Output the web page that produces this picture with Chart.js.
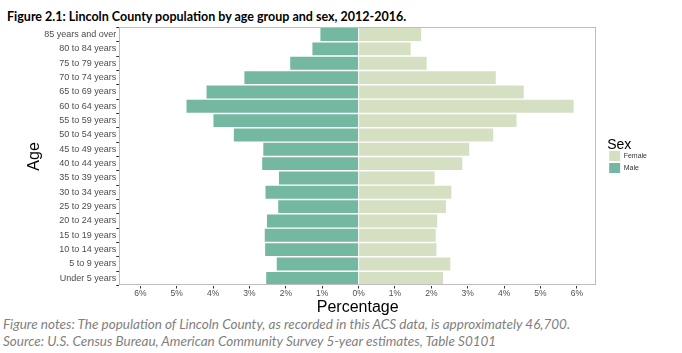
<!DOCTYPE html>
<html>
<head>
<meta charset="utf-8">
<script src="https://cdn.jsdelivr.net/npm/chart.js"></script>
<style>
  body { margin: 0; background: #fff; width: 682px; height: 353px; position: relative; overflow: hidden; }
  #title { position: absolute; left: 7px; top: 9px; font: bold 12.5px Lato, sans-serif; color: #000; white-space: nowrap; }
  #wrap { position: absolute; left: 0; top: 22px; width: 682px; height: 294px; }
  .note { position: absolute; left: 3px; font: italic 13.5px Lato, sans-serif; line-height: 16px; color: #7f7f7f; white-space: nowrap; }
</style>
</head>
<body>
<div id="title">Figure 2.1: Lincoln County population by age group and sex, 2012-2016.</div>
<div id="wrap"><canvas id="myChart"></canvas></div>
<div class="note" style="top:316px">Figure notes: The population of Lincoln County, as recorded in this ACS data, is approximately 46,700.</div>
<div class="note" style="top:333px">Source: U.S. Census Bureau, American Community Survey 5-year estimates, Table S0101</div>
<script>
// age groups, top to bottom
const ageGroups = ["85 years and over", "80 to 84 years", "75 to 79 years", "70 to 74 years",
  "65 to 69 years", "60 to 64 years", "55 to 59 years", "50 to 54 years", "45 to 49 years",
  "40 to 44 years", "35 to 39 years", "30 to 34 years", "25 to 29 years", "20 to 24 years",
  "15 to 19 years", "10 to 14 years", "5 to 9 years", "Under 5 years"];

// percent of total population
const malePct = [1.05, 1.27, 1.88, 3.14, 4.18, 4.73, 3.99, 3.43, 2.62,
  2.65, 2.19, 2.56, 2.21, 2.52, 2.58, 2.57, 2.25, 2.54];
const femalePct = [1.72, 1.43, 1.87, 3.77, 4.54, 5.91, 4.34, 3.70, 3.04,
  2.85, 2.09, 2.55, 2.40, 2.16, 2.12, 2.14, 2.52, 2.32];

const xTicks = [-6, -5, -4, -3, -2, -1, 0, 1, 2, 3, 4, 5, 6];

const maleColor = "#75b8a1";
const femaleColor = "#d5e0c3";

//*****Panel border (ggplot style box)*****//
const panelBorder = {
  id: "panelBorder",
  afterDraw(chart) {
    const { ctx, chartArea: a } = chart;
    ctx.save();
    ctx.strokeStyle = "#bdbdbd";
    ctx.lineWidth = 1;
    ctx.strokeRect(Math.round(a.left) + 0.5, Math.round(a.top) + 0.5,
      Math.round(a.right - a.left) - 1, Math.round(a.bottom - a.top) - 1);
    ctx.restore();
  }
};

new Chart("myChart", {
  type: "bar",
  data: {
    labels: ageGroups,
    datasets: [
      { label: "Female", data: femalePct, backgroundColor: femaleColor, barPercentage: 0.9, categoryPercentage: 1 },
      { label: "Male", data: malePct.map(v => -v), backgroundColor: maleColor, barPercentage: 0.9, categoryPercentage: 1 }
    ]
  },
  plugins: [panelBorder],
  options: {
    indexAxis: "y",
    responsive: true,
    maintainAspectRatio: false,
    animation: false,
    layout: { padding: { left: 25, right: 25, top: 4, bottom: 0 } },
    scales: {
      x: {
        stacked: true,
        min: -6.58,
        max: 6.53,
        afterBuildTicks: (axis) => { axis.ticks = xTicks.map(v => ({ value: v })); },
        border: { display: false },
        grid: { drawOnChartArea: false, tickLength: 3, color: "#333" },
        ticks: {
          color: "#4d4d4d",
          font: { family: "Liberation Sans", size: 8.5, lineHeight: 1 },
          padding: 1,
          callback: (v) => Math.abs(v) + "%"
        },
        title: { display: true, text: "Percentage", color: "#000", font: { family: "Liberation Sans", size: 16, lineHeight: 1 }, padding: { top: 1, bottom: 0 } }
      },
      y: {
        stacked: true,
        border: { display: false },
        grid: { drawOnChartArea: false, tickLength: 3, color: "#333" },
        ticks: { color: "#4d4d4d", font: { family: "Liberation Sans", size: 9 }, padding: 0, autoSkip: false },
        title: { display: true, text: "Age", color: "#000", font: { family: "Liberation Sans", size: 16 }, padding: 0 }
      },
      // empty strip between the panel and the legend
      gap: {
        type: "linear",
        position: "right",
        grid: { display: false },
        border: { display: false },
        ticks: { display: false },
        afterFit: (s) => { s.width = 11; }
      }
    },
    plugins: {
      legend: {
        position: "right",
        align: "center",
        fullSize: false,
        title: { display: true, text: "Sex", position: "start", color: "#000", font: { family: "Liberation Sans", size: 14, lineHeight: 1 }, padding: { top: 0, bottom: -3 } },
        labels: {
          boxWidth: 11,
          boxHeight: 10,
          padding: 2,
          color: "#333",
          font: { family: "Liberation Sans", size: 7 }
        }
      },
      tooltip: { enabled: false }
    }
  }
});
</script>
</body>
</html>
